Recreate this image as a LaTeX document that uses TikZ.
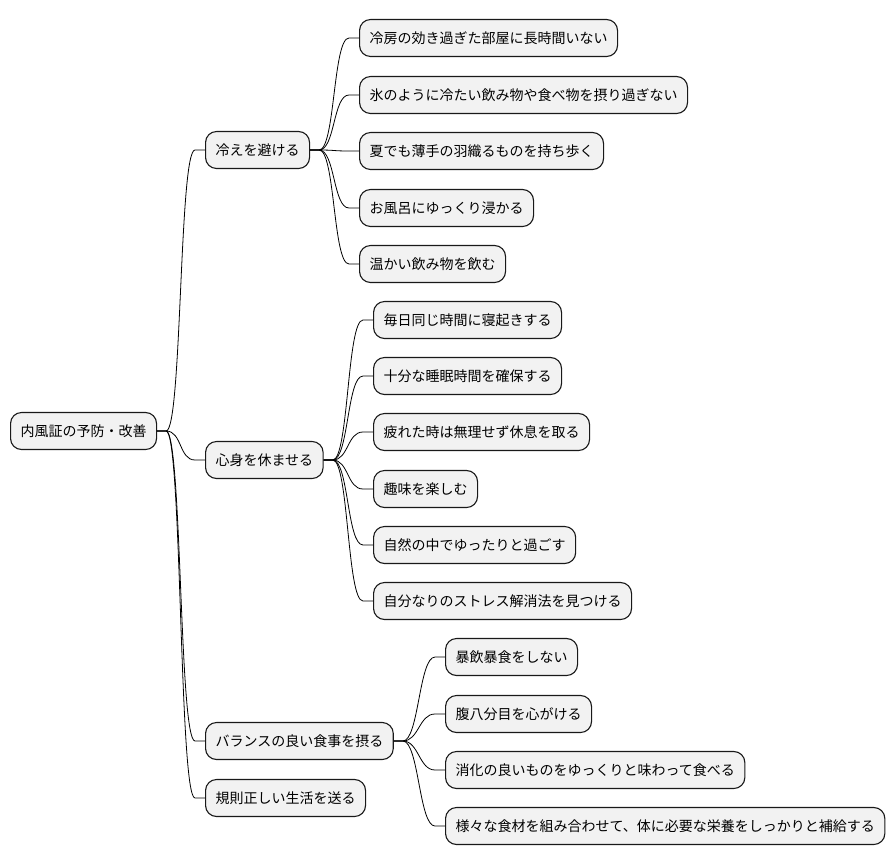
\documentclass[tikz,border=0pt]{standalone}
\usepackage{fontspec}
\setmainfont{Noto Sans CJK JP}
\usepackage{xcolor}
\usepackage{tikz}

\tikzset{
    topic/.style={draw=black!90, fill=gray!10, line width=1.1pt, rounded corners=11pt,
        anchor=west, minimum height=37pt, inner xsep=10pt, inner ysep=0pt,
        font=\fontsize{14}{17}\selectfont},
    branch/.style={line width=0.8pt, to path={-- ++(9pt,0)
        .. controls +(16pt,0) and ([xshift=-26pt]\tikztotarget.west)
        .. ([xshift=-10pt]\tikztotarget.west) -- (\tikztotarget.west)}}
}

\begin{document}
\begin{tikzpicture}[x=1pt, y=-1pt]
    \useasboundingbox (0,0) rectangle (894,865);

    % root
    \node[topic] (root) at (10,431) {内風証の予防・改善};

    % first level
    \node[topic] (cold) at (205,150) {冷えを避ける};
    \node[topic] (rest) at (205,460) {心身を休ませる};
    \node[topic] (food) at (205,741) {バランスの良い食事を摂る};
    \node[topic] (life) at (205,798) {規則正しい生活を送る};

    % cold
    \node[topic] (c1) at (359,38) {冷房の効き過ぎた部屋に長時間いない};
    \node[topic] (c2) at (359,95) {氷のように冷たい飲み物や食べ物を摂り過ぎない};
    \node[topic] (c3) at (359,151) {夏でも薄手の羽織るものを持ち歩く};
    \node[topic] (c4) at (359,208) {お風呂にゆっくり浸かる};
    \node[topic] (c5) at (359,264) {温かい飲み物を飲む};

    % rest
    \node[topic] (r1) at (373,320) {毎日同じ時間に寝起きする};
    \node[topic] (r2) at (373,376) {十分な睡眠時間を確保する};
    \node[topic] (r3) at (373,432) {疲れた時は無理せず休息を取る};
    \node[topic] (r4) at (373,489) {趣味を楽しむ};
    \node[topic] (r5) at (373,545) {自然の中でゆったりと過ごす};
    \node[topic] (r6) at (373,601) {自分なりのストレス解消法を見つける};

    % food
    \node[topic] (f1) at (445,657) {暴飲暴食をしない};
    \node[topic] (f2) at (445,714) {腹八分目を心がける};
    \node[topic] (f3) at (445,770) {消化の良いものをゆっくりと味わって食べる};
    \node[topic] (f4) at (445,826) {様々な食材を組み合わせて、体に必要な栄養をしっかりと補給する};

    % connectors
    \draw[branch] (root.east) to (cold);
    \draw[branch] (root.east) to (rest);
    \draw[branch] (root.east) to (food);
    \draw[branch] (root.east) to (life);

    \draw[branch] (cold.east) to (c1);
    \draw[branch] (cold.east) to (c2);
    \draw[branch] (cold.east) to (c3);
    \draw[branch] (cold.east) to (c4);
    \draw[branch] (cold.east) to (c5);

    \draw[branch] (rest.east) to (r1);
    \draw[branch] (rest.east) to (r2);
    \draw[branch] (rest.east) to (r3);
    \draw[branch] (rest.east) to (r4);
    \draw[branch] (rest.east) to (r5);
    \draw[branch] (rest.east) to (r6);

    \draw[branch] (food.east) to (f1);
    \draw[branch] (food.east) to (f2);
    \draw[branch] (food.east) to (f3);
    \draw[branch] (food.east) to (f4);
\end{tikzpicture}
\end{document}
